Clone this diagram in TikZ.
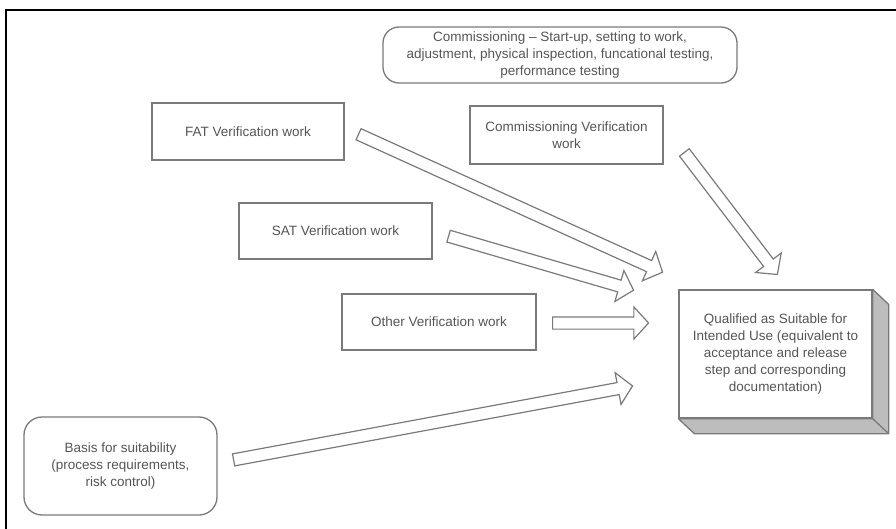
\documentclass[tikz,border=0pt]{standalone}
\usepackage{fontspec}
\setmainfont{Liberation Sans}
\usetikzlibrary{shapes.arrows,calc}

\definecolor{linegray}{HTML}{7A7A7A}
\definecolor{textgray}{HTML}{555555}
\definecolor{sidegray}{HTML}{BDBDBD}

\tikzset{
  box/.style={draw=linegray, line width=1.3pt, text=textgray, align=center,
    minimum width=193pt, inner sep=0pt, font=\fontsize{13.5}{17}\selectfont},
  roundbox/.style={box, rounded corners=16pt},
  blockarrow/.style={single arrow, draw=linegray, line width=1.2pt, fill=white,
    inner sep=5.5pt, single arrow head extend=10pt, single arrow tip angle=95,
    anchor=tail}
}

\begin{document}
\begin{tikzpicture}[x=1pt, y=-1pt]

  \useasboundingbox (0,0) rectangle (896,529);

  \newcommand\bigarrow[2]{%
    \path let \p1=($(#2)-(#1)$), \n1={atan2(\y1,\x1)}, \n2={veclen(\x1,\y1)} in
      node[blockarrow, minimum height=\n2, rotate=\n1] at (#1) {};}

  % frame
  \draw[line width=1.6pt] (6,529) -- (6,10) -- (896,10);

  % boxes
  \node[roundbox, minimum width=354pt, minimum height=56pt] (comm) at (560,55)
    {Commissioning -- Start-up, setting to work,\\adjustment, physical inspection, funcational testing,\\performance testing};
  \node[box, minimum width=192pt, minimum height=57pt] (fat) at (248,131.5) {FAT Verification work};
  \node[box, minimum height=58pt] (cver) at (566.5,135) {Commissioning Verification\\work};
  \node[box, minimum height=56pt] (sat) at (335.5,231) {SAT Verification work};
  \node[box, minimum width=194pt, minimum height=56pt] (other) at (439,322) {Other Verification work};
  \node[roundbox, minimum height=98pt, rounded corners=18pt] (basis) at (120.5,466)
    {Basis for suitability\\(process requirements,\\risk control)};

  % qualified box with depth
  \node[box, minimum height=128pt, fill=white] (qual) at (775.5,354)
    {Qualified as Suitable for\\Intended Use (equivalent to\\acceptance and release\\step and corresponding\\documentation)};
  \filldraw[fill=sidegray, draw=linegray, line width=1.3pt, line join=round]
    (qual.north east) -- ++(16,15) -- ($(qual.south east)+(16,15)$)
    -- ($(qual.south west)+(16,15)$) -- (qual.south west) -- (qual.south east) -- cycle;
  \draw[linegray, line width=1.3pt] (qual.south east) -- ++(16,15);

  % arrow ends
  \coordinate (fatT) at (358,134);   \coordinate (fatH) at (662,272);
  \coordinate (satT) at (448,236);   \coordinate (satH) at (633,290);
  \coordinate (othT) at (552,323);   \coordinate (othH) at (648,323);
  \coordinate (basT) at (233,460);   \coordinate (basH) at (632,386);
  \coordinate (cvT)  at (684,152);   \coordinate (cvH)  at (777,274);

  \bigarrow{fatT}{fatH}
  \bigarrow{satT}{satH}
  \bigarrow{othT}{othH}
  \bigarrow{basT}{basH}
  \bigarrow{cvT}{cvH}

\end{tikzpicture}
\end{document}
